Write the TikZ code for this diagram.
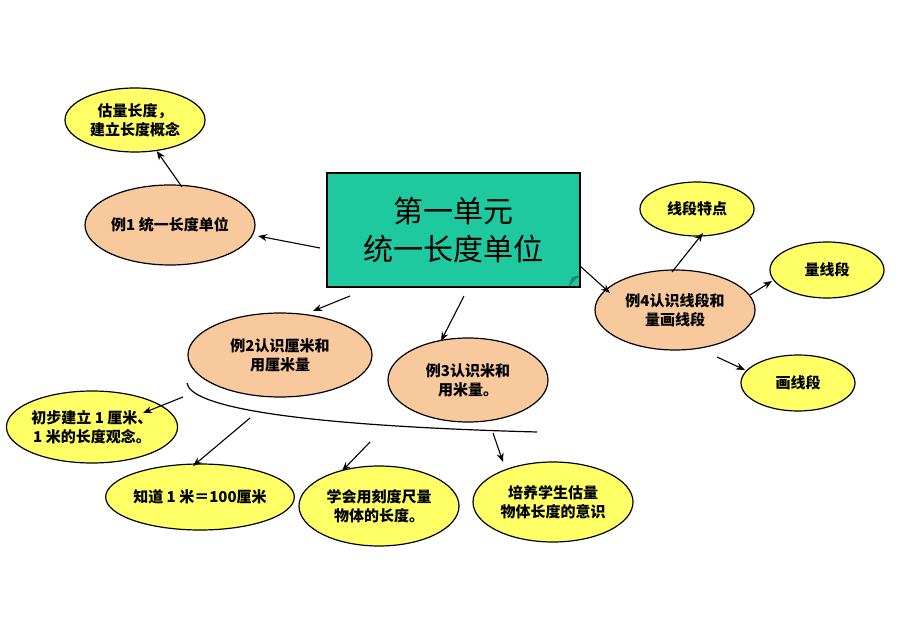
\documentclass[tikz,border=0pt]{standalone}
\usepackage{fontspec}
\setmainfont{Liberation Serif}
\newfontfamily\cjk{Noto Sans CJK SC}
\usetikzlibrary{shapes.geometric,arrows.meta}
\definecolor{yel}{HTML}{FFFF66}
\definecolor{ora}{HTML}{F9C99E}
\definecolor{teal}{HTML}{1FC9A0}
\tikzset{
 el/.style={ellipse,draw=black,line width=1.2pt,inner sep=0pt,align=center,font=\cjk\bfseries\fontsize{15}{19}\selectfont},
 ye/.style={el,fill=yel},
 oe/.style={el,fill=ora},
 ar/.style={-{Stealth[length=9pt,width=7pt]},line width=1.1pt}
}
\begin{document}
\begin{tikzpicture}[x=1pt,y=-1pt]
\path[use as bounding box,fill=white] (0,0) rectangle (906,639);
\node[ye,minimum width=140pt,minimum height=64pt] (e0) at (135,120) {估量长度，\\建立长度概念};
\node[oe,minimum width=170pt,minimum height=80pt] (e1) at (170,225) {例1 统一长度单位};
\node[draw=black,line width=1.2pt,fill=teal,minimum width=253pt,minimum height=114pt,align=center,font=\cjk\fontsize{30}{38}\selectfont] (box) at (453.5,230) {第一单元\\统一长度单位};
\fill[teal!70!black] (568,287) -- (580,275) -- (572,277) -- cycle;
\node[oe,minimum width=184pt,minimum height=84pt] (e2) at (280,355) {例2认识厘米和\\用厘米量};
\node[oe,minimum width=160pt,minimum height=84pt] (e3) at (468,380) {例3认识米和\\用米量。};
\node[oe,minimum width=160pt,minimum height=80pt] (e4) at (675,310) {例4认识线段和\\量画线段};
\node[ye,minimum width=114pt,minimum height=54pt] (f1) at (697,209) {线段特点};
\node[ye,minimum width=114pt,minimum height=56pt] (f2) at (827,270) {量线段};
\node[ye,minimum width=114pt,minimum height=56pt] (f3) at (798,383) {画线段};
\node[ye,minimum width=164pt,minimum height=72pt] (g1) at (92,427) {初步建立 1 厘米、\\1 米的长度观念。};
\node[ye,minimum width=164pt,minimum height=66pt] (g2) at (200,497) {知道 1 米＝100厘米};
\node[ye,minimum width=160pt,minimum height=80pt] (g3) at (379,506) {学会用刻度尺量\\物体的长度。};
\node[ye,minimum width=160pt,minimum height=80pt] (g4) at (553,502) {培养学生估量\\物体长度的意识};
\coordinate (c1) at (182,187); \coordinate (c2) at (320,248);
\coordinate (c3) at (350,296); \coordinate (c4) at (464,296);
\coordinate (c5) at (580,266); \coordinate (c6) at (672,272);
\coordinate (c7) at (750,295); \coordinate (c8) at (717,357);
\coordinate (d1) at (183,397); \coordinate (d2) at (250,418);
\coordinate (d3) at (370,442); \coordinate (d4) at (493,433);
\coordinate (k1) at (187,383); \coordinate (k2) at (537,432);
\draw[ar] (c1) -- (e0);
\draw[ar] (c2) -- (258,236);
\draw[ar] (c3) -- (313,311);
\draw[ar] (c4) -- (441,341);
\draw[ar] (c5) -- (610,293);
\draw[ar] (c6) -- (703,233);
\draw[ar] (c7) -- (772,281);
\draw[ar] (c8) -- (745,370);
\draw[line width=1.2pt] (k1) .. controls (190,405) and (280,425) .. (k2);
\draw[ar] (d1) -- (143,413);
\draw[ar] (d2) -- (193,466);
\draw[ar] (d3) -- (342,471);
\draw[ar] (d4) -- (503,462);
\end{tikzpicture}
\end{document}
